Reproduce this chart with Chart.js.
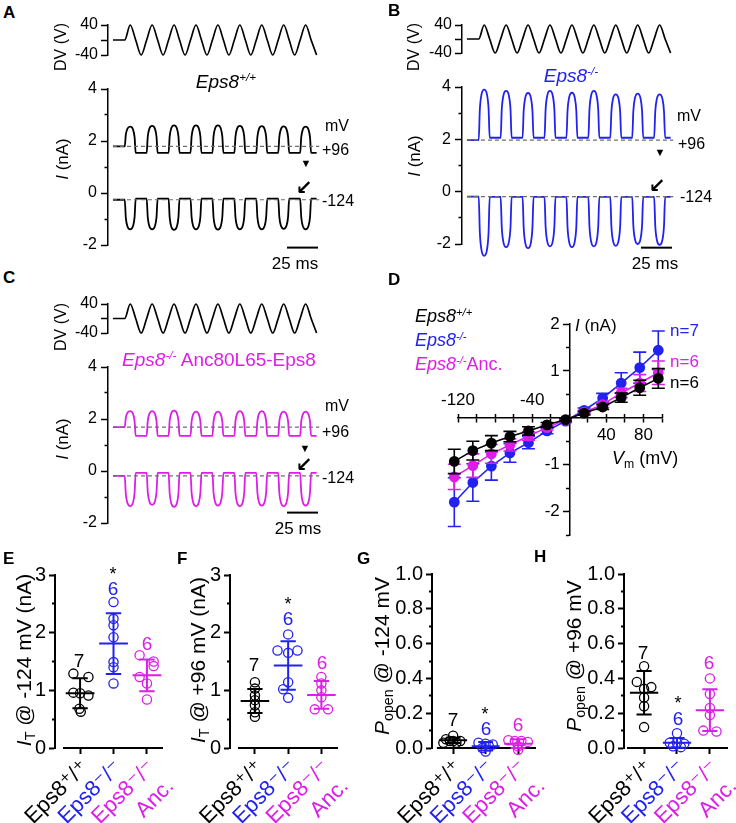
<!DOCTYPE html>
<html><head><meta charset="utf-8">
<script src="https://cdn.jsdelivr.net/npm/chart.js@4.4.1/dist/chart.umd.min.js"></script>
<style>
html,body{margin:0;padding:0;background:#fff;}
#fig{position:relative;width:736px;height:823px;overflow:hidden;font-family:"Liberation Sans",Arial,sans-serif;color:#000;background:#fff;}
.t{position:absolute;white-space:nowrap;line-height:1;}
.t sup{font-size:.62em;vertical-align:.55em;line-height:0;}
.t sub{font-size:.68em;vertical-align:-.3em;line-height:0;}
</style></head>
<body><div id="fig"></div>
<script>
// ================= DATA =================
// Panels A-C : stimulus timing (ms) and voltage (V)
const traceStartMs = 4;
const baselineEndMs = 170.5;
const cycleStartMs = [13.5, 31.2, 48.9, 66.6, 84.3, 102.0, 119.7, 137.4, 155.1];
const halfCycleMs = 8.85;
const stimEndMs = 168.4;
const dvPeakV = [40, 40, 40, 40, 40, 40, 40, 40, 40];
const dvTroughV = [-40, -40, -40, -40, -40, -40, -40, -40, -40];
const dvTicks = [-40, 0, 40];
const dvTickLabels = [-40, 40];
const iTicks = [-2, -1, 0, 1, 2, 3, 4];
const iTickLabels = [-2, 0, 2, 4];
const scaleBarMs = [144.5, 169.5];

// Panel A (Eps8+/+) currents, nA
const aPosHold = 1.79, aPosLow = 1.54;
const aPosPeak = [2.55, 2.58, 2.60, 2.60, 2.60, 2.58, 2.57, 2.56, 2.55];
const aNegHold = -0.26, aNegLow = -0.22;
const aNegPeak = [-1.40, -1.40, -1.42, -1.40, -1.41, -1.40, -1.40, -1.38, -1.40];
const aScaleBarY = -2.1;
// Panel B (Eps8-/-)
const bPosHold = 1.97, bPosLow = 2.06;
const bPosPeak = [3.90, 3.85, 3.77, 3.85, 3.78, 3.85, 3.72, 3.75, 3.72];
const bNegHold = -0.19, bNegLow = -0.20;
const bNegPeak = [-2.45, -2.12, -2.16, -2.09, -2.12, -2.09, -2.07, -2.00, -2.03];
const bScaleBarY = -2.14;
// Panel C (Eps8-/- Anc80L65-Eps8)
const cPosHold = 1.69, cPosLow = 1.35;
const cPosPeak = [2.30, 2.30, 2.32, 2.28, 2.28, 2.30, 2.30, 2.28, 2.28];
const cNegHold = -0.19, cNegLow = -0.07;
const cNegPeak = [-1.35, -1.30, -1.38, -1.35, -1.33, -1.35, -1.33, -1.35, -1.33];
const cScaleBarY = -1.6;

// Panel D : I-V curves
const ivVoltage = [-124, -104, -84, -64, -44, -24, -4, 16, 36, 56, 76, 96];
const ivWT   = [-0.93, -0.70, -0.54, -0.40, -0.28, -0.15, -0.04, 0.10, 0.23, 0.43, 0.64, 0.84];
const ivWTsd = [0.26, 0.20, 0.16, 0.11, 0.09, 0.05, 0.03, 0.04, 0.05, 0.10, 0.16, 0.21];
const ivKO   = [-1.80, -1.38, -1.03, -0.75, -0.53, -0.28, -0.07, 0.16, 0.42, 0.74, 1.07, 1.44];
const ivKOsd = [0.52, 0.40, 0.30, 0.20, 0.13, 0.06, 0.03, 0.05, 0.10, 0.22, 0.33, 0.41];
const ivAnc   = [-1.26, -1.02, -0.77, -0.58, -0.39, -0.21, -0.05, 0.12, 0.28, 0.53, 0.74, 0.96];
const ivAncsd = [0.27, 0.25, 0.20, 0.13, 0.09, 0.05, 0.03, 0.04, 0.06, 0.10, 0.18, 0.25];
const ivXTicks = [-120, -100, -80, -60, -40, -20, 0, 20, 40, 60, 80, 100];
const ivXLabelsBelow = [40, 80];
const ivXLabelsAbove = [-120, -40];
const ivYTicks = [-2.5, -2, -1.5, -1, -0.5, 0, 0.5, 1, 1.5, 2];
const ivYLabels = [-2, -1, 1, 2];

// Panels E-H : groups
const groupLabels = ['Eps8\u207A/\u207A', 'Eps8\u207B/\u207B', ['Eps8\u207B/\u207B', 'Anc.']];
// E : I_T @ -124 mV (nA)
const eWT  = [1.29, 1.23, 0.96, 0.95, 0.91, 0.68, 0.63];
const eKO  = [2.53, 2.24, 2.13, 1.92, 1.49, 1.40, 1.12];
const eAnc = [1.61, 1.50, 1.42, 1.23, 1.12, 0.84];
const eMean = [0.95, 1.81, 1.26];
const eSD   = [0.26, 0.525, 0.275];
// F : I_T @ +96 mV (nA)
const fWT  = [1.14, 1.03, 0.91, 0.83, 0.74, 0.62, 0.54];
const fKO  = [1.97, 1.69, 1.65, 1.69, 1.14, 1.02, 0.87];
const fAnc = [1.23, 1.12, 1.00, 0.88, 0.67, 0.67];
const fMean = [0.815, 1.43, 0.92];
const fSD   = [0.21, 0.42, 0.24];
// G : Popen @ -124 mV
const gWT  = [0.07, 0.05, 0.04, 0.04, 0.04, 0.03, 0.03];
const gKO  = [0.03, 0.025, 0.02, 0.01, 0.0, -0.02];
const gAnc = [0.045, 0.04, 0.04, 0.035, 0.01, -0.01];
const gMean = [0.044, 0.01, 0.025];
const gSD   = [0.015, 0.025, 0.025];
// H : Popen @ +96 mV
const hWT  = [0.47, 0.38, 0.35, 0.34, 0.29, 0.24, 0.12];
const hKO  = [0.085, 0.03, 0.03, 0.025, 0.01, 0.005];
const hAnc = [0.40, 0.31, 0.23, 0.19, 0.10, 0.095];
const hMean = [0.317, 0.03, 0.217];
const hSD   = [0.125, 0.028, 0.12];

// horizontal scatter of the open circles (category units)
const jitEWT = [-0.2, 0.25, -0.2, 0, 0.25, -0.02, 0.02];
const jitEKO = [0, 0, 0, 0, 0, 0, 0];
const jitEAnc = [-0.22, 0.2, 0.2, -0.22, 0, 0];
const jitFWT = [0, 0, 0, 0, 0, 0, 0];
const jitFKO = [0, -0.32, 0, 0.28, 0, -0.15, 0];
const jitFAnc = [0, 0, 0, 0, -0.2, 0.2];
const jitGWT = [0, -0.22, 0.22, 0, -0.1, 0.1, -0.3];
const jitGKO = [-0.22, 0, 0.22, 0.1, -0.1, 0];
const jitGAnc = [-0.3, -0.1, 0.1, 0.3, 0, 0];
const jitHWT = [0, -0.22, 0.22, 0, 0, 0, 0];
const jitHKO = [0, -0.22, 0, 0.22, -0.12, 0.12];
const jitHAnc = [0, 0, 0, 0, -0.2, 0.2];

// ================= STYLE =================
const FONT = "'Liberation Sans', Arial, 'DejaVu Sans', sans-serif";
const BLACK = '#000000', BLUE = '#2222f0', MAG = '#dc1ee6', GREY = '#6e6e6e';
const groupColors = [BLACK, BLUE, MAG];
Chart.defaults.font.family = FONT;
const fig = document.getElementById('fig');

function mk(area, pad, yW, xH, config) {
  const left = Math.round(area.L - yW - pad.l), top = Math.round(area.T - pad.t);
  const width = Math.round(area.R + pad.r) - left, height = Math.round(area.B + xH + pad.b) - top;
  const c = document.createElement('canvas');
  c.width = width; c.height = height;
  Object.assign(c.style, {position: 'absolute', left: left + 'px', top: top + 'px', width: width + 'px', height: height + 'px'});
  fig.appendChild(c);
  const o = config.options;
  o.responsive = false; o.animation = false; o.devicePixelRatio = 1; o.events = [];
  o.layout = {padding: {left: pad.l, top: pad.t, right: pad.r, bottom: pad.b}};
  o.plugins = Object.assign({legend: {display: false}, tooltip: {enabled: false}}, o.plugins || {});
  return new Chart(c, config);
}

function txt(html, x, y, o = {}) {
  const d = document.createElement('div');
  d.className = 't'; d.innerHTML = html;
  d.style.left = x + 'px'; d.style.top = y + 'px';
  d.style.fontSize = (o.size || 16) + 'px';
  if (o.color) d.style.color = o.color;
  if (o.bold) d.style.fontWeight = 'bold';
  if (o.family) d.style.fontFamily = o.family;
  const ax = o.align === 'l' ? '0' : (o.align === 'r' ? '-100%' : '-50%');
  d.style.transform = `translate(${ax},-50%)` + (o.rot ? ' rotate(-90deg)' : '');
  fig.appendChild(d);
}

// ---- trace builders (use the read values above) ----
const domeFrac = [0, 0.1, 0.25, 0.5, 0.75, 0.9, 1];
const domeShape = [0, 0.6, 0.9, 1, 0.9, 0.6, 0];
function currentTrace(hold, low, peaks) {
  const pts = [{x: traceStartMs, y: hold}];
  cycleStartMs.forEach((t0, k) => {
    const b0 = k === 0 ? hold : low;
    domeFrac.forEach((f, j) => {
      const base = f < 0.5 ? b0 : low;
      pts.push({x: t0 + f * halfCycleMs, y: base + domeShape[j] * (peaks[k] - base)});
    });
  });
  pts.push({x: stimEndMs, y: low});
  return pts;
}
function dvTrace() {
  const pts = [{x: traceStartMs, y: 0}];
  const q = halfCycleMs / 2;
  cycleStartMs.forEach((t0, k) => {
    pts.push({x: t0, y: 0}, {x: t0 + q, y: dvPeakV[k]}, {x: t0 + 2 * q, y: 0}, {x: t0 + 3 * q, y: dvTroughV[k]});
  });
  return pts;
}

const tickFont = (s) => ({family: FONT, size: s});
function traceCharts(dvArea, iArea, color, posHold, posLow, posPeak, negHold, negLow, negPeak, sbY) {
  mk(dvArea, {l: 30, t: 15, r: 10, b: 15}, 40, 0, {
    type: 'line',
    data: {datasets: [{data: dvTrace(), borderColor: BLACK, borderWidth: 1.7, pointRadius: 0, cubicInterpolationMode: 'monotone', clip: false}]},
    options: {scales: {
      x: {type: 'linear', display: false, min: 0, max: 180},
      y: {type: 'linear', min: -40, max: 40,
        afterFit: s => { s.width = 40; },
        afterBuildTicks: s => { s.ticks = dvTicks.map(v => ({value: v})); },
        ticks: {autoSkip: false, callback: v => dvTickLabels.includes(v) ? String(v) : '', font: tickFont(16), color: BLACK, padding: 3},
        grid: {drawOnChartArea: false, tickLength: 7, tickColor: BLACK, tickWidth: 1.5},
        border: {color: BLACK, width: 1.5}}
    }}
  });
  const line = (d, c, w, extra) => Object.assign({data: d, borderColor: c, borderWidth: w, pointRadius: 0, clip: false}, extra || {});
  mk(iArea, {l: 30, t: 15, r: 10, b: 25}, 40, 0, {
    type: 'line',
    data: {datasets: [
      line([{x: traceStartMs, y: posHold}, {x: baselineEndMs, y: posHold}], GREY, 1.2, {borderDash: [4, 3], order: 0}),
      line([{x: traceStartMs, y: negHold}, {x: baselineEndMs, y: negHold}], GREY, 1.2, {borderDash: [4, 3], order: 0}),
      line(currentTrace(posHold, posLow, posPeak), color, 1.8, {cubicInterpolationMode: 'monotone', order: 1}),
      line(currentTrace(negHold, negLow, negPeak), color, 1.8, {cubicInterpolationMode: 'monotone', order: 1}),
      line([{x: scaleBarMs[0], y: sbY}, {x: scaleBarMs[1], y: sbY}], BLACK, 2, {order: 0})
    ]},
    options: {scales: {
      x: {type: 'linear', display: false, min: 0, max: 180},
      y: {type: 'linear', min: -2, max: 4,
        afterFit: s => { s.width = 40; },
        afterBuildTicks: s => { s.ticks = iTicks.map(v => ({value: v})); },
        ticks: {autoSkip: false, callback: v => iTickLabels.includes(v) ? String(v) : '', font: tickFont(16), color: BLACK, padding: 4},
        grid: {drawOnChartArea: false, tickLength: 7, tickColor: BLACK, tickWidth: 1.5,
          tickBorderDash: ctx => (ctx.tick && iTickLabels.includes(ctx.tick.value)) ? [] : [0, 3.5, 3.5, 100]},
        border: {color: BLACK, width: 1.5}}
    }}
  });
}

traceCharts({L: 108, T: 25, R: 331, B: 55}, {L: 108, T: 89, R: 331, B: 245}, BLACK, aPosHold, aPosLow, aPosPeak, aNegHold, aNegLow, aNegPeak, aScaleBarY);
traceCharts({L: 462, T: 25, R: 685, B: 53}, {L: 462, T: 87, R: 685, B: 244}, BLUE, bPosHold, bPosLow, bPosPeak, bNegHold, bNegLow, bNegPeak, bScaleBarY);
traceCharts({L: 108, T: 304, R: 331, B: 333}, {L: 108, T: 367, R: 331, B: 523}, MAG, cPosHold, cPosLow, cPosPeak, cNegHold, cNegLow, cNegPeak, cScaleBarY);

// ---- Panel D ----
function errPoints(xs, m, s, capHalf) {
  const pts = [];
  xs.forEach((x, i) => {
    const hi = m[i] + s[i], lo = m[i] - s[i];
    pts.push({x: x - capHalf, y: hi}, {x: x + capHalf, y: hi}, {x: x, y: null},
             {x: x, y: hi}, {x: x, y: lo}, {x: x, y: null},
             {x: x - capHalf, y: lo}, {x: x + capHalf, y: lo}, {x: x, y: null});
  });
  return pts;
}
function ivSets(m, s, color, order) {
  return [
    {data: errPoints(ivVoltage, m, s, 7), borderColor: color, borderWidth: 1.6, pointRadius: 0, clip: false, order: order + 0.5},
    {data: ivVoltage.map((v, i) => ({x: v, y: m[i]})), borderColor: color, borderWidth: 1.6, pointRadius: 4.6,
     pointBackgroundColor: color, pointBorderColor: color, clip: false, order: order}
  ];
}
mk({L: 458, T: 324, R: 662, B: 535}, {l: 22, t: 16, r: 16, b: 14}, 0, 0, {
  type: 'line',
  data: {datasets: [...ivSets(ivKO, ivKOsd, BLUE, 3), ...ivSets(ivAnc, ivAncsd, MAG, 2), ...ivSets(ivWT, ivWTsd, BLACK, 1)]},
  options: {scales: {
    x: {type: 'linear', position: {y: 0}, min: -120, max: 100,
      afterBuildTicks: s => { s.ticks = ivXTicks.map(v => ({value: v})); },
      ticks: {autoSkip: false, maxRotation: 0, callback: v => ivXLabelsBelow.includes(v) ? String(v) : '', font: tickFont(17), color: BLACK, padding: 3},
      grid: {drawOnChartArea: false, tickLength: 4, tickColor: BLACK, tickWidth: 1.5},
      border: {color: BLACK, width: 1.5}},
    x2: {type: 'linear', position: {y: 0}, min: -120, max: 100,
      afterBuildTicks: s => { s.ticks = ivXTicks.map(v => ({value: v})); },
      ticks: {autoSkip: false, maxRotation: 0, callback: v => ivXLabelsAbove.includes(v) ? String(v) : '', font: tickFont(17), color: BLACK, padding: -24},
      grid: {drawOnChartArea: false, tickLength: -4, tickColor: BLACK, tickWidth: 1.5},
      border: {display: false}},
    y: {type: 'linear', position: {x: 0}, min: -2.5, max: 2,
      afterBuildTicks: s => { s.ticks = ivYTicks.map(v => ({value: v})); },
      // labels are right-aligned on the axis line: trailing spaces keep them clear of the tick marks
      ticks: {autoSkip: false, callback: v => ivYLabels.includes(v) ? String(v) + '  ' : '', font: tickFont(17), color: BLACK, padding: 2},
      grid: {drawOnChartArea: false, tickLength: 6, tickColor: BLACK, tickWidth: 1.5,
        tickBorderDash: ctx => (ctx.tick && Number.isInteger(ctx.tick.value)) ? [] : [3, 100]},
      border: {color: BLACK, width: 1.5}}
  }}
});

// ---- Panels E-H ----
const xLinePlugin = {
  id: 'xline',
  beforeDatasetsDraw(chart, args, opts) {
    if (!opts || opts.from == null) return;
    const {ctx, chartArea: a} = chart; const x = chart.scales.x;
    ctx.save(); ctx.strokeStyle = BLACK; ctx.lineWidth = 2;
    ctx.beginPath(); ctx.moveTo(x.getPixelForValue(opts.from), a.bottom); ctx.lineTo(a.right, a.bottom); ctx.stroke();
    ctx.restore();
  }
};
function summaryBars(cx, m, s, meanHalf, capHalf) {
  return [{x: cx - capHalf, y: m + s}, {x: cx + capHalf, y: m + s}, {x: cx, y: null},
          {x: cx, y: m + s}, {x: cx, y: m - s}, {x: cx, y: null},
          {x: cx - capHalf, y: m - s}, {x: cx + capHalf, y: m - s}, {x: cx, y: null},
          {x: cx - meanHalf, y: m}, {x: cx + meanHalf, y: m}];
}
function groupPanel(area, xMin, xMax, xLineFrom, yMax, yStep, isMajor, fmt, vals, jits, means, sds) {
  const sets = [];
  vals.forEach((v, g) => {
    sets.push({data: v.map((y, i) => ({x: g + 1 + jits[g][i], y: y})), showLine: false, pointRadius: 4.6, pointBorderWidth: 1.3,
      pointBackgroundColor: 'rgba(0,0,0,0)', pointBorderColor: groupColors[g], borderColor: groupColors[g], clip: false, order: 2});
    sets.push({data: summaryBars(g + 1, means[g], sds[g], 0.43, 0.23), borderColor: groupColors[g], borderWidth: 2,
      pointRadius: 0, clip: false, order: 1});
  });
  mk(area, {l: 8, t: 17, r: 30, b: 0}, 42, 75, {
    type: 'line',
    data: {datasets: sets},
    options: {
      plugins: {xline: {from: xLineFrom}},
      scales: {
        x: {type: 'linear', min: xMin, max: xMax,
          afterFit: s => { s.height = 75; },
          afterBuildTicks: s => { s.ticks = [1, 2, 3].map(v => ({value: v})); },
          ticks: {autoSkip: false, minRotation: 45, maxRotation: 45, padding: 1, labelOffset: 5,
            callback: v => groupLabels[v - 1], color: ctx => groupColors[ctx.index], font: tickFont(22)},
          grid: {drawOnChartArea: false, tickLength: 6, tickColor: BLACK, tickWidth: 2},
          border: {display: false}},
        y: {type: 'linear', min: 0, max: yMax,
          afterFit: s => { s.width = 42; },
          afterBuildTicks: s => { const t = []; for (let k = 0; k * yStep <= yMax + 1e-9; k++) t.push({value: +(k * yStep).toFixed(3)}); s.ticks = t; },
          ticks: {autoSkip: false, callback: v => isMajor(v) ? fmt(v) : '', font: tickFont(20), color: BLACK, padding: 3},
          grid: {drawOnChartArea: false, tickLength: 6, tickColor: BLACK, tickWidth: 2,
            tickBorderDash: ctx => (ctx.tick && isMajor(ctx.tick.value)) ? [] : [0, 3, 3, 100]},
          border: {color: BLACK, width: 2}}
      }
    },
    plugins: [xLinePlugin]
  });
}
const intMajor = v => Math.abs(v - Math.round(v)) < 1e-6;
const fifthMajor = v => Math.round(v * 10) % 2 === 0;
groupPanel({L: 55, T: 575, R: 163, B: 748}, 0.25, 3.48, 0.49, 3, 0.5, intMajor, v => String(Math.round(v)),
  [eWT, eKO, eAnc], [jitEWT, jitEKO, jitEAnc], eMean, eSD);
groupPanel({L: 230, T: 575, R: 338, B: 748}, 0.25, 3.5, 0.49, 3, 0.5, intMajor, v => String(Math.round(v)),
  [fWT, fKO, fAnc], [jitFWT, jitFKO, jitFAnc], fMean, fSD);
groupPanel({L: 432, T: 574, R: 536, B: 748}, 0.35, 3.55, 0.5, 1, 0.1, fifthMajor, v => v.toFixed(1),
  [gWT, gKO, gAnc], [jitGWT, jitGKO, jitGAnc], gMean, gSD);
groupPanel({L: 624, T: 574, R: 728, B: 748}, 0.39, 3.55, 0.48, 1, 0.1, fifthMajor, v => v.toFixed(1),
  [hWT, hKO, hAnc], [jitHWT, jitHKO, jitHAnc], hMean, hSD);

// ================= TEXT =================
const wt = '<i>Eps8</i><sup><i>+/+</i></sup>';
const ko = '<i>Eps8</i><sup><i>-/-</i></sup>';
// panel letters
[['A', 3, 12], ['B', 388, 10], ['C', 3, 277], ['D', 388, 279], ['E', 3, 558], ['F', 177, 558], ['G', 357, 558], ['H', 534, 556]]
  .forEach(([l, x, y]) => txt(l, x, y, {align: 'l', bold: true, size: 17}));
// A
txt('DV (V)', 61, 47, {rot: true, size: 16});
txt(wt, 226, 81, {size: 19});
txt('<i>I</i> (nA)', 62, 159, {rot: true, size: 17});
txt('mV', 325, 126, {align: 'l', size: 16});
txt('+96', 322, 150, {align: 'l', size: 16});
txt('-124', 322, 201, {align: 'l', size: 16});
txt('\u25BC', 306, 163, {size: 11});
txt('\u2199', 304, 187, {size: 20, bold: true, family: 'DejaVu Sans'});
txt('25 ms', 295, 263, {size: 17});
// B
txt('DV (V)', 414, 47, {rot: true, size: 16});
txt(ko, 571, 75, {size: 19, color: BLUE});
txt('<i>I</i> (nA)', 414, 156, {rot: true, size: 17});
txt('mV', 677, 116, {align: 'l', size: 16});
txt('+96', 678, 144, {align: 'l', size: 16});
txt('-124', 680, 197, {align: 'l', size: 16});
txt('\u25BC', 660, 152, {size: 11});
txt('\u2199', 657, 185, {size: 20, bold: true, family: 'DejaVu Sans'});
txt('25 ms', 655, 263, {size: 17});
// C
txt('DV (V)', 61, 327, {rot: true, size: 16});
txt(ko + ' Anc80L65-Eps8', 219, 359, {size: 19, color: MAG});
txt('<i>I</i> (nA)', 62, 439, {rot: true, size: 17});
txt('mV', 325, 406, {align: 'l', size: 16});
txt('+96', 322, 432, {align: 'l', size: 16});
txt('-124', 322, 478, {align: 'l', size: 16});
txt('\u25BC', 305, 448, {size: 11});
txt('\u2199', 304, 464, {size: 20, bold: true, family: 'DejaVu Sans'});
txt('25 ms', 298, 528, {size: 17});
// D
txt(wt, 415, 316, {align: 'l', size: 18});
txt(ko, 415, 340, {align: 'l', size: 18, color: BLUE});
txt(ko + 'Anc.', 415, 364, {align: 'l', size: 18, color: MAG});
txt('<i>I</i> (nA)', 575, 325, {align: 'l', size: 17});
txt('n=7', 670, 330, {align: 'l', size: 17, color: BLUE});
txt('n=6', 670, 361, {align: 'l', size: 17, color: MAG});
txt('n=6', 670, 382, {align: 'l', size: 17});
txt('<i>V</i><sub>m</sub> (mV)', 612, 458, {align: 'l', size: 18});
// E
txt('<i>I</i><sub>T</sub> @ -124 mV (nA)', 23, 660, {rot: true, size: 21});
txt('7', 79, 660, {size: 19});
txt('*', 113, 574, {size: 18});
txt('6', 113, 588, {size: 19, color: BLUE});
txt('6', 147, 643, {size: 19, color: MAG});
// F
txt('<i>I</i><sub>T</sub> @ +96 mV (nA)', 197, 660, {rot: true, size: 21});
txt('7', 254, 664, {size: 19});
txt('*', 288, 604, {size: 18});
txt('6', 288, 618, {size: 19, color: BLUE});
txt('6', 322, 662, {size: 19, color: MAG});
// G
txt('<i>P</i><sub>open</sub> @ -124 mV', 381, 656, {rot: true, size: 21});
txt('7', 453, 719, {size: 19});
txt('*', 485, 714, {size: 18});
txt('6', 486, 728, {size: 19, color: BLUE});
txt('6', 518, 724, {size: 19, color: MAG});
// H
txt('<i>P</i><sub>open</sub> @ +96 mV', 573, 656, {rot: true, size: 21});
txt('7', 643, 652, {size: 19});
txt('*', 678, 703, {size: 18});
txt('6', 678, 718, {size: 19, color: BLUE});
txt('6', 709, 662, {size: 19, color: MAG});
</script>
</body></html>
